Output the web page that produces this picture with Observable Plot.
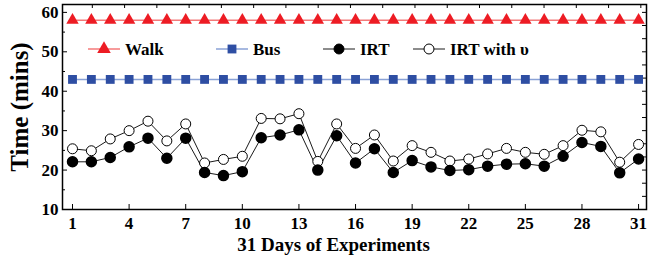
<!DOCTYPE html>
<html><head><meta charset="utf-8">
<script src="https://cdn.jsdelivr.net/npm/d3@7"></script>
<script src="https://cdn.jsdelivr.net/npm/@observablehq/plot@0.6"></script>
<style>
body{margin:0;background:#fff}
#chart{position:relative;width:658px;height:259px}
</style>
</head><body><div id="chart"></div>
<script>
const days = [1,2,3,4,5,6,7,8,9,10,11,12,13,14,15,16,17,18,19,20,21,22,23,24,25,26,27,28,29,30,31];
const walk = [58,58,58,58,58,58,58,58,58,58,58,58,58,58,58,58,58,58,58,58,58,58,58,58,58,58,58,58,58,58,58];
const bus  = [43,43,43,43,43,43,43,43,43,43,43,43,43,43,43,43,43,43,43,43,43,43,43,43,43,43,43,43,43,43,43];
const irt  = [22.1,22.1,23.2,25.9,28.1,23.0,28.1,19.4,18.6,19.6,28.2,28.9,30.2,20.0,28.7,21.8,25.4,19.4,22.4,20.8,19.9,20.1,21.0,21.5,21.6,21.0,23.5,27.0,26.0,19.3,22.8];
const irtV = [25.4,24.9,27.9,30.0,32.4,27.4,31.7,21.8,22.7,23.5,33.1,33.0,34.3,22.2,31.7,25.5,28.9,22.3,26.2,24.5,22.3,22.8,24.1,25.5,24.5,24.0,26.2,30.1,29.7,22.0,26.5];
const seriesNames = ["Walk","Bus","IRT","IRT with \u03c5"];
const xTicks = [1,4,7,10,13,16,19,22,25,28,31];
const yTicks = [10,20,30,40,50,60];
const yMinor = [15,25,35,45,55];
const topTicks = [2.05,3.76,5.47,7.18,8.89,10.6,12.31,14.02,15.73,17.44,19.15,20.86,22.57,24.28,25.99,27.7,29.41,31.12];
const rightTicks = [60,56.67,53.33,50,46.67,43.33,40,36.67,33.33,30,26.67,23.33,20,16.67,13.33];

const W = 658, H = 259;
const mT = 4, mB = 50, mL = 62, mR = 12;
const innerW = W - mL - mR, innerH = H - mT - mB;
const FONT = "'Liberation Serif','Times New Roman',serif";

const colors = {walkLine:"#f47a7a", walk:"#ed1c24", busLine:"#8aa2d6", bus:"#2e4ea3", line:"#1a1a1a"};

const mk = (vals) => days.map((d,i)=>({day:d, v:vals[i]}));
const W_ = mk(walk), B_ = mk(bus), I_ = mk(irt), V_ = mk(irtV);

const plot = Plot.plot({
  width: W, height: H,
  marginTop: mT, marginBottom: mB, marginLeft: mL, marginRight: mR,
  style: {fontFamily: FONT, fontWeight: "bold", fontSize: "17px", background: "#fff", color: "#000", overflow: "visible"},
  x: {domain: [0.47, 31.42]},
  y: {domain: [10, 62]},
  marks: [
    Plot.ruleX(xTicks, {x: d=>d, insetTop: innerH - 5, stroke: "#000", strokeWidth: 1}),
    Plot.ruleX(topTicks, {x: d=>d, insetBottom: innerH - 4, stroke: "#000", strokeWidth: 1}),
    Plot.ruleY(yTicks, {y: d=>d, insetRight: innerW - 5, stroke: "#000", strokeWidth: 1}),
    Plot.ruleY(yMinor, {y: d=>d, insetRight: innerW - 3, stroke: "#000", strokeWidth: 1}),
    Plot.ruleY(rightTicks, {y: d=>d, insetLeft: innerW - 4, stroke: "#000", strokeWidth: 1}),
    Plot.axisX({ticks: xTicks, tickSize: 0, tickPadding: 7, tickFormat: d=>String(d), label: null, fontSize: 17}),
    Plot.axisY({ticks: yTicks, tickSize: 0, tickPadding: 4, tickFormat: d=>String(d), label: null, fontSize: 17}),
    Plot.line(W_, {x:"day", y:"v", stroke: colors.walkLine, strokeWidth: 1.5}),
    Plot.dot(W_, {x:"day", y:"v", symbol:"triangle", fill: colors.walk, r: 4.6}),
    Plot.line(B_, {x:"day", y:"v", stroke: colors.busLine, strokeWidth: 1.5}),
    Plot.dot(B_, {x:"day", y:"v", symbol:"square", fill: colors.bus, r: 5}),
    Plot.line(V_, {x:"day", y:"v", stroke: colors.line, strokeWidth: 1}),
    Plot.line(I_, {x:"day", y:"v", stroke: colors.line, strokeWidth: 1}),
    Plot.dot(V_, {x:"day", y:"v", fill: "#fff", stroke: "#000", strokeWidth: 1, r: 5}),
    Plot.dot(I_, {x:"day", y:"v", fill: "#000", stroke: "#000", r: 5}),
    Plot.frame({stroke: "#000", strokeWidth: 1.5}),
    Plot.text(["Time (mins)"], {text: d=>d, frameAnchor: "left", dx: -43, rotate: -90, textAnchor: "middle", lineAnchor: "middle", fontSize: 25, fontWeight: "bold"}),
    Plot.text(["31 Days of Experiments"], {text: d=>d, frameAnchor: "bottom", dy: 35, dx: -21, textAnchor: "middle", lineAnchor: "middle", fontSize: 19, fontWeight: "bold"})
  ]
});

// legend inside the plot
const svg = d3.select(plot);
const legend = [
  {name: seriesNames[0], line: colors.walkLine, sym: d3.symbolTriangle, fill: colors.walk, stroke: "none", x: 88, size: 80},
  {name: seriesNames[1], line: colors.busLine, sym: d3.symbolSquare, fill: colors.bus, stroke: "none", x: 216, size: 78},
  {name: seriesNames[2], line: colors.line, sym: d3.symbolCircle, fill: "#000", stroke: "#000", x: 323, size: 78},
  {name: seriesNames[3], line: colors.line, sym: d3.symbolCircle, fill: "#fff", stroke: "#000", x: 413, size: 78}
];
const ly = 49;
const g = svg.append("g").attr("font-family", FONT).attr("font-weight", "bold").attr("font-size", 17).attr("text-anchor", "start");
legend.forEach(e => {
  g.append("line").attr("x1", e.x).attr("x2", e.x + 32).attr("y1", ly).attr("y2", ly)
    .attr("stroke", e.line).attr("stroke-width", e.line === colors.line ? 1 : 1.5);
  g.append("path").attr("d", d3.symbol(e.sym, e.size)()).attr("transform", `translate(${e.x+16},${ly})`)
    .attr("fill", e.fill).attr("stroke", e.stroke);
  g.append("text").attr("x", e.x + 37).attr("y", ly).attr("dy", "0.35em").text(e.name);
});

document.getElementById("chart").appendChild(plot);
</script>
</body></html>
